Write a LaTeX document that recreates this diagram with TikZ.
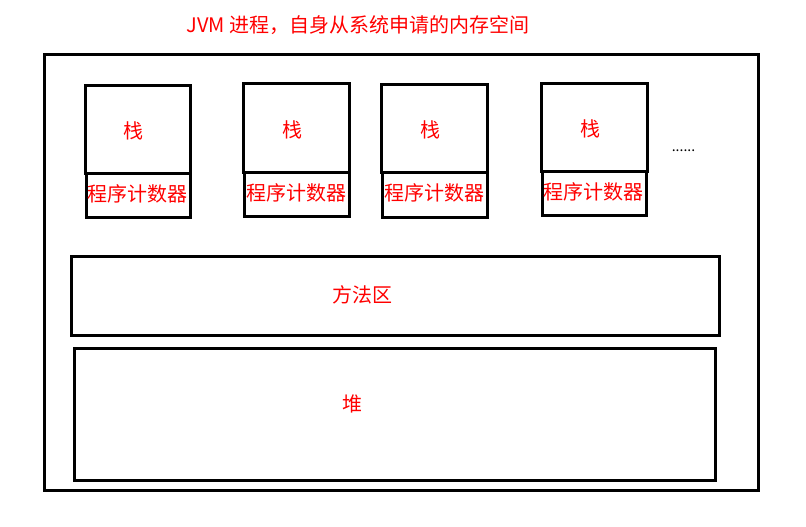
\documentclass[tikz,border=0pt]{standalone}
\usepackage{fontspec}
\setmainfont{Noto Sans CJK SC}
\begin{document}
\begin{tikzpicture}[x=1pt,y=-1pt,
  box/.style={draw=black,line width=3pt,rectangle,inner sep=0pt,outer sep=0pt},
  lbl/.style={text=red,font=\fontsize{20}{23}\selectfont,inner sep=0pt}]
\useasboundingbox (0,0) rectangle (806,527);
% outer JVM frame
\node[box,minimum width=714pt,minimum height=435pt] (jvm) at (401,272.5) {};
\node[lbl] (title) at (358,25) {JVM 进程，自身从系统申请的内存空间};
% stacks and program counters
\node[box,minimum width=105pt,minimum height=87pt] (s1) at (137.5,129.5) {};
\node[box,minimum width=104pt,minimum height=44pt] (pc1) at (138,195) {};
\node[box,minimum width=106pt,minimum height=88pt] (s2) at (296,128) {};
\node[box,minimum width=105pt,minimum height=44pt] (pc2) at (296.5,194) {};
\node[box,minimum width=106pt,minimum height=87pt] (s3) at (434,128.5) {};
\node[box,minimum width=105pt,minimum height=45pt] (pc3) at (434.5,194.5) {};
\node[box,minimum width=106pt,minimum height=87pt] (s4) at (594,127.5) {};
\node[box,minimum width=104pt,minimum height=44pt] (pc4) at (594,193) {};
\node[lbl] (t1) at (133,131) {栈};
\node[lbl] (t2) at (292,130) {栈};
\node[lbl] (t3) at (430,130) {栈};
\node[lbl] (t4) at (590,129) {栈};
\node[lbl] (p1) at (137,194) {程序计数器};
\node[lbl] (p2) at (296,193) {程序计数器};
\node[lbl] (p3) at (434,193) {程序计数器};
\node[lbl] (p4) at (593,192) {程序计数器};
\node[font=\fontsize{14}{16}\selectfont,inner sep=0pt] (dots) at (683.5,151) {......};
% method area and heap
\node[box,minimum width=648pt,minimum height=79pt] (method) at (395,295.5) {};
\node[lbl] (mt) at (362,295) {方法区};
\node[box,minimum width=641pt,minimum height=132pt] (heap) at (394.5,414) {};
\node[lbl] (ht) at (352,404) {堆};
\end{tikzpicture}
\end{document}
